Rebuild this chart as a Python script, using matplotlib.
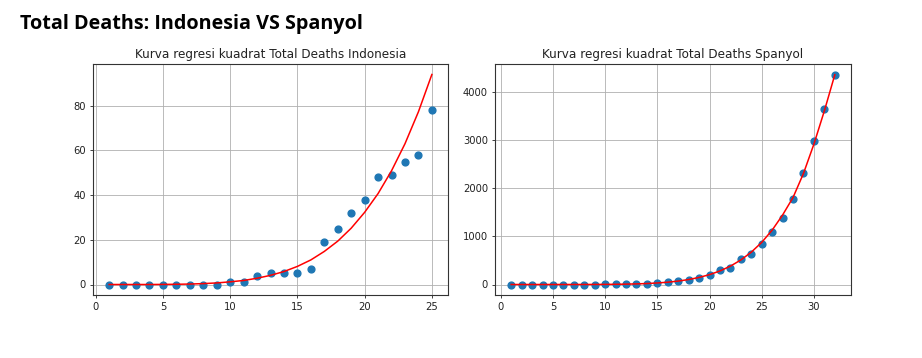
import matplotlib
matplotlib.use("Agg")
import matplotlib.pyplot as plt
import numpy as np

# data
days_idn = list(range(1, 26))
deaths_idn = [0, 0, 0, 0, 0, 0, 0, 0, 0, 1, 1, 4, 5, 5, 5, 7, 19, 25, 32, 38, 48, 49, 55, 58, 78]
fit_idn = [0.0, 0.0, 0.0, 0.0, 0.04, 0.1, 0.2, 0.4, 0.7, 1.2, 1.8, 2.8, 4.1, 5.8, 8.1,
           11.0, 14.8, 19.4, 25.2, 32.3, 40.7, 50.9, 63.0, 77.3, 94.0]

days_esp = list(range(1, 33))
deaths_esp = [0, 0, 0, 0, 0, 0, 0, 0, 0, 1, 2, 5, 10, 17, 28, 42, 64, 90, 133, 196, 294, 342,
              533, 638, 840, 1093, 1381, 1772, 2311, 2991, 3647, 4365]
fit_esp = [0, 0, 0, 0, 0, 0.1, 0.2, 0.5, 1.1, 2.3, 4.2, 7.4, 12.5, 20, 32, 48, 71, 103, 147,
           205, 282, 382, 510, 672, 876, 1131, 1445, 1810, 2310, 2920, 3610, 4360]

main_title = "Total Deaths: Indonesia VS Spanyol"
title_idn = "Kurva regresi kuadrat Total Deaths Indonesia"
title_esp = "Kurva regresi kuadrat Total Deaths Spanyol"

fig = plt.figure(figsize=(9.22, 3.58), dpi=100)
fig.text(20 / 922, 1 - 29.5 / 358, main_title, fontsize=14.2, fontweight="bold",
         family="Open Sans", va="baseline", ha="left")

ax1 = fig.add_axes([93 / 922, 63 / 358, 355 / 922, 231 / 358])
ax2 = fig.add_axes([495 / 922, 63 / 358, 356 / 922, 231 / 358])

panels = [
    (ax1, days_idn, deaths_idn, fit_idn, title_idn),
    (ax2, days_esp, deaths_esp, fit_esp, title_esp),
]
for ax, x, y, f, t in panels:
    ax.scatter(x, y, s=24, color="#1f77b4", zorder=2)
    ax.plot(x, f, color="red", linewidth=1.1, zorder=3)
    ax.set_title(t, fontsize=8.64, pad=4.3, color="#222222")
    ax.grid(True, color="#b0b0b0", linewidth=0.6)
    ax.set_axisbelow(True)
    ax.tick_params(labelsize=7.2, length=2.5, width=0.6, pad=2.5, colors="#222222")
    for s in ax.spines.values():
        s.set_color("#333333")
        s.set_linewidth(0.8)

fig.savefig("out.png", dpi=100)
